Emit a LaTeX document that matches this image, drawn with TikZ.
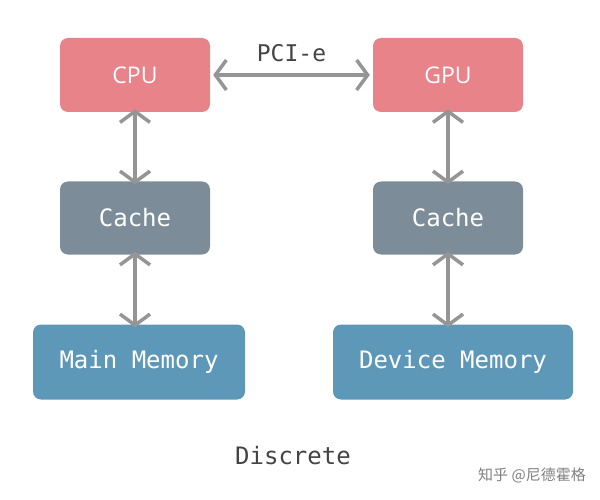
\documentclass[tikz,border=0pt]{standalone}
\usepackage{fontspec}
\setmainfont{Open Sans}
\newfontfamily\monof{DejaVu Sans Mono}
\newfontfamily\cjk{Noto Sans CJK SC}
\usetikzlibrary{arrows.meta}
\definecolor{cpuc}{HTML}{E8838A}
\definecolor{cachec}{HTML}{7C8D99}
\definecolor{memc}{HTML}{5E98B9}
\definecolor{arrc}{HTML}{959595}
\definecolor{txtc}{HTML}{444444}
\begin{document}
\begin{tikzpicture}[x=1pt,y=-1pt,
  box/.style={rounded corners=8pt,inner sep=0pt,text=white,font=\monof\fontsize{24}{28}\selectfont},
  link/.style={draw=arrc,line width=4pt,{Straight Barb[length=11pt,width=30pt,line width=3.5pt]}-{Straight Barb[length=11pt,width=30pt,line width=3.5pt]}}]
\useasboundingbox (0,0) rectangle (600,500);
\node[box,fill=cpuc,minimum width=150pt,minimum height=74pt,font=\fontsize{23}{28}\selectfont] (cpu) at (135,75) {CPU};
\node[box,fill=cpuc,minimum width=150pt,minimum height=74pt,font=\fontsize{23}{28}\selectfont] (gpu) at (448,75) {GPU};
\node[box,fill=cachec,minimum width=150pt,minimum height=73pt] (c1) at (135,218) {Cache};
\node[box,fill=cachec,minimum width=150pt,minimum height=73pt] (c2) at (448,218) {Cache};
\node[box,fill=memc,minimum width=212pt,minimum height=75pt] (m1) at (139,362) {Main Memory};
\node[box,fill=memc,minimum width=240pt,minimum height=75pt] (m2) at (453,362) {Device Memory};
\draw[link] ([xshift=3pt]cpu.east) -- node[above=8pt,text=txtc,font=\monof\fontsize{23}{28}\selectfont]{PCI-e} ([xshift=-3pt]gpu.west);
\draw[link] ([yshift=3pt]cpu.south) -- ([yshift=-3pt]c1.north);
\draw[link] ([yshift=3pt]gpu.south) -- ([yshift=-3pt]c2.north);
\draw[link] ([yshift=3pt]c1.south) -- ([yshift=-3pt]m1.north -| c1.south);
\draw[link] ([yshift=3pt]c2.south) -- ([yshift=-3pt]m2.north -| c2.south);
\node[text=txtc,font=\monof\fontsize{24}{28}\selectfont] (d) at (293,456) {Discrete};
\node[text=gray,font=\cjk\fontsize{15}{17}\selectfont] (w) at (532,475) {知乎 @尼德霍格};
\end{tikzpicture}
\end{document}
